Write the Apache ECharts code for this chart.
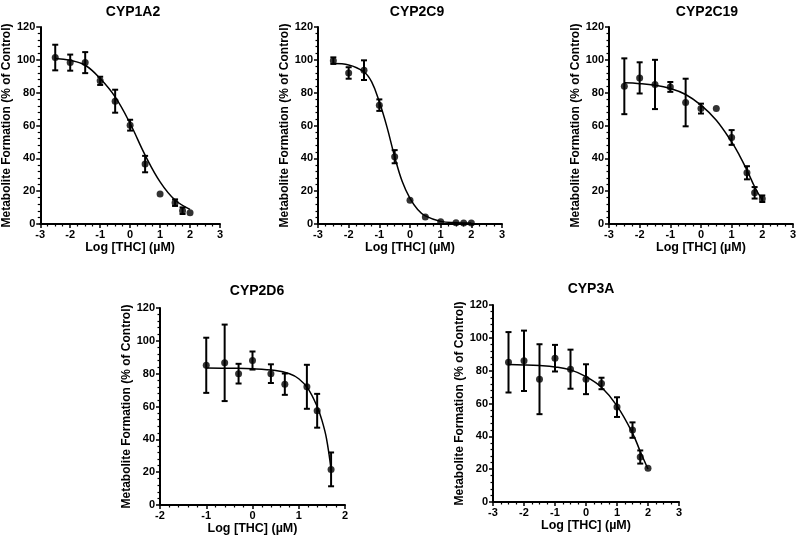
<!DOCTYPE html>
<html>
<head>
<meta charset="utf-8">
<script src="https://cdn.jsdelivr.net/npm/echarts@6/dist/echarts.min.js"></script>
<style>html,body{margin:0;padding:0;background:#fff}#c{width:799px;height:538px}</style>
</head>
<body>
<div id="c"></div>
<script>
// ---- Data ----
const panelTitles = ['CYP1A2', 'CYP2C9', 'CYP2C19', 'CYP2D6', 'CYP3A'];
const xAxisName = 'Log [THC] (\u00b5M)';
const yAxisName = 'Metabolite Formation (% of Control)';

const cyp1a2X = [-2.5, -2, -1.5, -1, -0.5, 0, 0.5, 1, 1.5, 1.75, 2];
const cyp1a2Y = [101.4, 98.3, 98.3, 87.2, 74.8, 60.2, 36.5, 18.2, 13, 8.1, 6.9];
const cyp1a2Err = [7.8, 4.9, 6.4, 2.5, 7, 3.3, 5, 0, 2, 2, 0];
const cyp1a2CurveX = [-2.5, -2, -1.5, -1, -0.5, 0, 0.5, 1, 1.5, 2];
const cyp1a2CurveY = [100.8, 99.7, 96.7, 88.6, 77.4, 61.2, 42, 25.7, 14.6, 8.9];

const cyp2c9X = [-2.5, -2, -1.5, -1, -0.5, 0, 0.5, 1, 1.5, 1.75, 2];
const cyp2c9Y = [99.5, 92, 93.7, 72.4, 41, 14.4, 4.3, 1.4, 0.8, 0.6, 0.6];
const cyp2c9Err = [2, 3.5, 6, 3.5, 4, 0, 0, 0, 0, 0, 0];
const cyp2c9CurveX = [-2.5, -2, -1.5, -1.25, -1, -0.75, -0.5, -0.25, 0, 0.25, 0.5, 1, 1.5, 2];
const cyp2c9CurveY = [97.7, 96.9, 92.6, 86.6, 74.4, 59, 41, 25.7, 15.6, 8.9, 4.9, 1.6, 0.8, 0.6];

const cyp2c19X = [-2.5, -2, -1.5, -1, -0.5, 0, 0.5, 1, 1.5, 1.75, 2];
const cyp2c19Y = [83.9, 89, 85, 83.5, 74, 70.3, 70.3, 52.7, 31.2, 19, 15.4];
const cyp2c19Err = [17, 9.5, 15, 3, 14.5, 3, 0, 4.5, 4, 3.5, 2];
const cyp2c19CurveX = [-2.5, -2, -1.5, -1, -0.5, 0, 0.5, 1, 1.25, 1.5, 1.75, 2];
const cyp2c19CurveY = [86, 85.5, 84.5, 82.5, 78.9, 72.4, 63.2, 50, 42, 32.8, 22.7, 14.5];

const cyp2d6X = [-1, -0.602, -0.301, 0, 0.398, 0.699, 1.176, 1.398, 1.699];
const cyp2d6Y = [85.1, 86.6, 80, 88, 80, 73.6, 72, 57.4, 21.7];
const cyp2d6Err = [16.8, 23.3, 6, 5.5, 5.7, 6.5, 13.4, 10.3, 10.3];
const cyp2d6CurveX = [-1, -0.5, 0, 0.5, 0.8, 1, 1.2, 1.4, 1.5, 1.6, 1.7];
const cyp2d6CurveY = [83.5, 83.3, 83, 81.9, 79.9, 76.9, 70.9, 59.8, 51.7, 40.5, 21.3];

const cyp3aX = [-2.5, -2, -1.5, -1, -0.5, 0, 0.5, 1, 1.5, 1.75, 2];
const cyp3aY = [85.1, 86, 74.8, 87.6, 80.9, 74.8, 72.2, 57.8, 43.8, 27.4, 20.5];
const cyp3aErr = [18.4, 18.4, 21.3, 8.1, 11.9, 9.1, 3.5, 6, 4.7, 4, 0];
const cyp3aCurveX = [-2.5, -2, -1.5, -1, -0.5, 0, 0.5, 1, 1.5, 1.75, 2];
const cyp3aCurveY = [83.7, 83.5, 83.1, 82.3, 80.5, 76.4, 69.9, 58.6, 42, 30.8, 20.1];

const xRanges = [[-3, 3], [-3, 3], [-3, 3], [-2, 2], [-3, 3]];

// ---- Build chart ----
const panels = [
  {x: cyp1a2X, y: cyp1a2Y, e: cyp1a2Err, cx: cyp1a2CurveX, cy: cyp1a2CurveY},
  {x: cyp2c9X, y: cyp2c9Y, e: cyp2c9Err, cx: cyp2c9CurveX, cy: cyp2c9CurveY},
  {x: cyp2c19X, y: cyp2c19Y, e: cyp2c19Err, cx: cyp2c19CurveX, cy: cyp2c19CurveY},
  {x: cyp2d6X, y: cyp2d6Y, e: cyp2d6Err, cx: cyp2d6CurveX, cy: cyp2d6CurveY},
  {x: cyp3aX, y: cyp3aY, e: cyp3aErr, cx: cyp3aCurveX, cy: cyp3aCurveY}
];

const grids = [
  {left: 35, top: 27, width: 185, height: 197},
  {left: 318, top: 27, width: 184, height: 197},
  {left: 609, top: 27, width: 186, height: 197},
  {left: 160, top: 308, width: 185, height: 197},
  {left: 493, top: 305, width: 186, height: 197}
];
const titlePos = [[128, 0], [412, 0], [702, 0], [252, 279], [586, 277]];

const FONT = '"Liberation Sans", Arial, sans-serif';

function errRender(params, api) {
  const x = api.value(0), lo = api.value(1), hi = api.value(2);
  if (hi - lo <= 0.01) return null;
  const p1 = api.coord([x, hi]), p2 = api.coord([x, lo]);
  const w = 3;
  const style = {stroke: '#000', lineWidth: 2};
  return {type: 'group', children: [
    {type: 'line', shape: {x1: p1[0], y1: p1[1], x2: p2[0], y2: p2[1]}, style},
    {type: 'line', shape: {x1: p1[0] - w, y1: p1[1], x2: p1[0] + w, y2: p1[1]}, style},
    {type: 'line', shape: {x1: p2[0] - w, y1: p2[1], x2: p2[0] + w, y2: p2[1]}, style}
  ]};
}

const axisCommon = {
  axisLine: {show: true, onZero: false, lineStyle: {color: '#000', width: 2}},
  axisTick: {show: true, inside: false, length: 4, lineStyle: {color: '#000', width: 1.5}},
  minorTick: {show: true, length: 2.5, lineStyle: {color: '#000', width: 1.2}},
  splitLine: {show: false},
  axisLabel: {color: '#000', fontFamily: FONT, fontWeight: 'bold', fontSize: 11, margin: 5},
  nameTextStyle: {color: '#000', fontFamily: FONT, fontWeight: 'bold', fontSize: 12}
};

const option = {
  animation: false,
  backgroundColor: '#fff',
  title: panelTitles.map((t, i) => ({
    text: t, left: titlePos[i][0], top: titlePos[i][1], textAlign: 'center',
    textStyle: {fontFamily: FONT, fontWeight: 'bold', fontSize: 14, color: '#000'}
  })),
  grid: grids,
  xAxis: grids.map((g, i) => Object.assign({}, axisCommon, {
    type: 'value', gridIndex: i, min: xRanges[i][0], max: xRanges[i][1], interval: 1,
    name: xAxisName, nameLocation: 'middle', nameGap: 15,
    nameTextStyle: Object.assign({}, axisCommon.nameTextStyle, {fontSize: 12.5}),
    minorTick: Object.assign({}, axisCommon.minorTick, {splitNumber: i === 3 ? 5 : 4})
  })),
  yAxis: grids.map((g, i) => Object.assign({}, axisCommon, {
    type: 'value', gridIndex: i, min: 0, max: 120, interval: 20,
    name: yAxisName, nameLocation: 'middle', nameGap: 21,
    minorTick: Object.assign({}, axisCommon.minorTick, {splitNumber: 5})
  })),
  series: []
};

panels.forEach((p, i) => {
  option.series.push({
    type: 'line', xAxisIndex: i, yAxisIndex: i, smooth: 0.4, showSymbol: false,
    lineStyle: {color: '#000', width: 1.5}, z: 2,
    data: p.cx.map((x, k) => [x, p.cy[k]])
  });
  option.series.push({
    type: 'custom', xAxisIndex: i, yAxisIndex: i, renderItem: errRender, z: 3,
    encode: {x: 0, y: [1, 2]},
    data: p.x.map((x, k) => [x, p.y[k] - p.e[k], p.y[k] + p.e[k]])
  });
  option.series.push({
    type: 'scatter', xAxisIndex: i, yAxisIndex: i, symbol: 'circle', symbolSize: 7, z: 4,
    itemStyle: {color: '#000'},
    data: p.x.map((x, k) => [x, p.y[k]])
  });
});

const chart = echarts.init(document.getElementById('c'), null, {renderer: 'canvas'});
chart.setOption(option);
</script>
</body>
</html>
